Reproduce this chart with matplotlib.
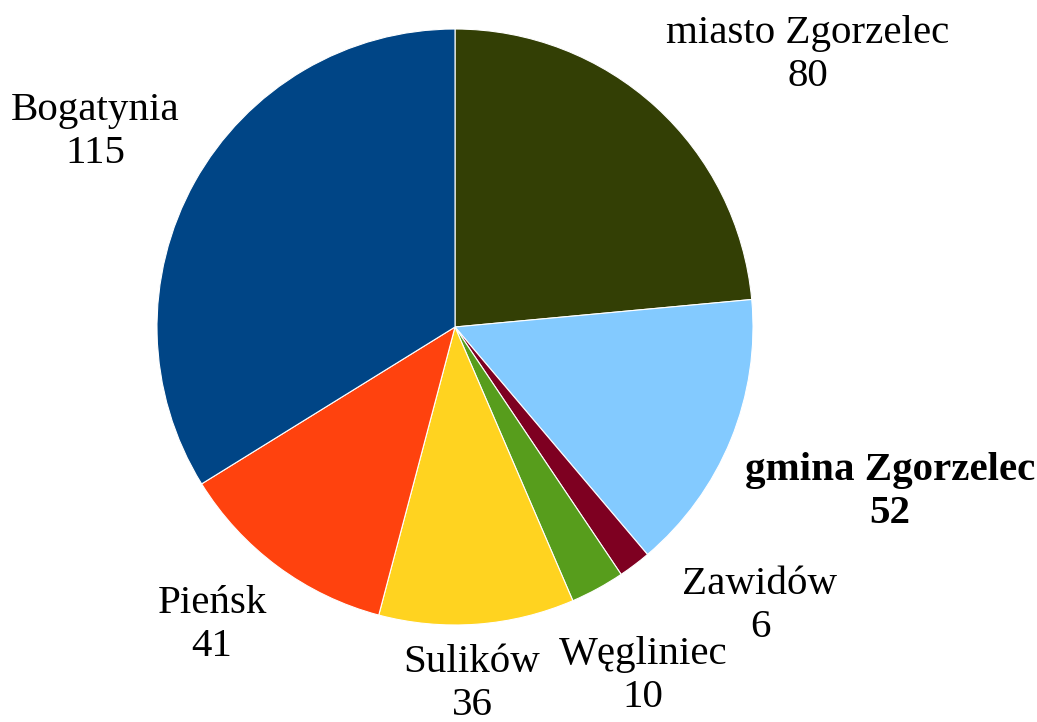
import matplotlib
matplotlib.use("Agg")
from matplotlib import pyplot as plt

plt.rcParams["font.family"] = ["Liberation Serif", "DejaVu Serif"]

labels = ["miasto Zgorzelec", "gmina Zgorzelec", "Zawidów", "Węgliniec",
          "Sulików", "Pieńsk", "Bogatynia"]
values = [80, 52, 6, 10, 36, 41, 115]
colors = ["#333f05", "#83caff", "#7e0021", "#579d1c", "#ffd320", "#ff420e", "#004586"]
bold = [False, True, False, False, False, False, False]

# label centres in pixels (from top-left)
label_pos = [(808, 55), (890, 492), (760, 606), (643, 676), (472, 684), (212, 625), (95, 132)]

W, H = 1037, 722
fig = plt.figure(figsize=(W / 100, H / 100), dpi=100)
ax = fig.add_axes([0, 0, 1, 1])

ax.pie(values, colors=colors, startangle=90, counterclock=False,
       center=(455, H - 327), radius=298,
       wedgeprops={"edgecolor": "white", "linewidth": 0.8})

for lab, val, (x, y), b in zip(labels, values, label_pos, bold):
    ax.text(x, H - y, f"{lab}\n{val}", ha="center", va="center",
            fontsize=29.5, linespacing=1.22,
            fontweight="bold" if b else "normal")

ax.set_xlim(0, W)
ax.set_ylim(0, H)
ax.set_aspect("equal")
ax.axis("off")

fig.savefig("out.png", dpi=100, facecolor="white")
